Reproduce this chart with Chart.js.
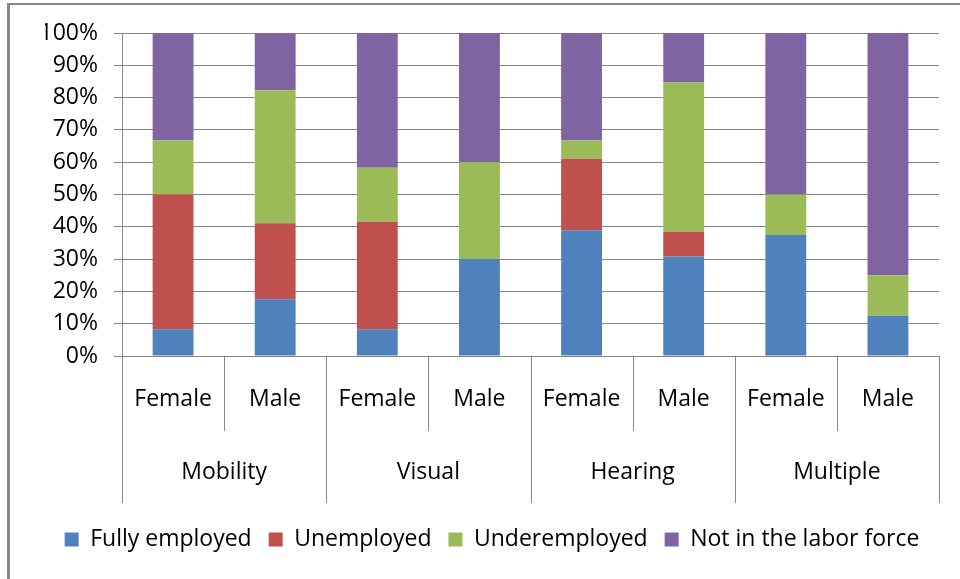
<!DOCTYPE html>
<html>
<head>
<meta charset="utf-8">
<script src="https://cdn.jsdelivr.net/npm/chart.js@4.4.1/dist/chart.umd.min.js"></script>
<style>
  html, body { margin: 0; padding: 0; background: #fff; }
  #wrap { width: 960px; height: 579px; position: relative; }
</style>
</head>
<body>
<div id="wrap"><canvas id="c" width="960" height="579"></canvas></div>
<script>
// ---- data ----
const categories = ['Female', 'Male', 'Female', 'Male', 'Female', 'Male', 'Female', 'Male'];
const groups = ['Mobility', 'Visual', 'Hearing', 'Multiple'];
const fullyEmployed = [8.3, 17.6, 8.3, 30.0, 38.9, 30.8, 37.5, 12.5];
const unemployed    = [41.7, 23.5, 33.3, 0, 22.2, 7.7, 0, 0];
const underemployed = [16.7, 41.2, 16.7, 30.0, 5.6, 46.2, 12.5, 12.5];
const notInLabor    = [33.3, 17.6, 41.7, 40.0, 33.3, 15.4, 50.0, 75.0];
const seriesNames = ['Fully employed', 'Unemployed', 'Underemployed', 'Not in the labor force'];
const yTicks = [0, 10, 20, 30, 40, 50, 60, 70, 80, 90, 100];

const FONT = '"Open Sans"';
const FS = 23;
const GRID = '#868686';
const TEXT = '#000000';
const colors = ['#4F81BD', '#C0504D', '#9BBB59', '#8064A2'];

const dividerPlugin = {
  id: 'dividers',
  beforeDraw(chart) {
    const ctx = chart.ctx;
    ctx.save();
    ctx.fillStyle = GRID;
    ctx.fillRect(7, 3, chart.width - 7, 2);
    ctx.fillRect(7, 3, 3, chart.height - 3);
    ctx.restore();
  },
  afterDraw(chart) {
    const x = chart.scales.x;
    const ctx = chart.ctx;
    ctx.save();
    ctx.strokeStyle = GRID;
    ctx.lineWidth = 1;
    const n = categories.length;
    for (let i = 0; i <= n; i++) {
      const px = Math.round(x.getPixelForValue(i - 0.5)) + 0.5;
      const yEnd = (i % 2 === 0) ? x.bottom + 72 : x.bottom;
      ctx.beginPath();
      ctx.moveTo(px, x.top);
      ctx.lineTo(px, yEnd);
      ctx.stroke();
    }
    ctx.restore();
  }
};

const datasets = [fullyEmployed, unemployed, underemployed, notInLabor].map((d, i) => ({
  label: seriesNames[i],
  data: d,
  backgroundColor: colors[i],
  borderWidth: 0,
  barPercentage: 0.4,
  categoryPercentage: 1.0
}));

new Chart(document.getElementById('c'), {
  type: 'bar',
  data: { labels: categories, datasets },
  plugins: [dividerPlugin],
  options: {
    responsive: false,
    animation: false,
    layout: { padding: { left: 45, right: 21, top: 33, bottom: 18 } },
    plugins: {
      tooltip: { enabled: false },
      legend: {
        position: 'bottom',
        labels: {
          boxWidth: 14, boxHeight: 14, padding: 17,
          color: TEXT,
          font: { family: FONT, size: FS }
        }
      }
    },
    scales: {
      x: {
        stacked: true,
        offset: true,
        grid: { display: false, drawTicks: false },
        border: { display: true, color: GRID, width: 1 },
        ticks: { color: TEXT, font: { family: FONT, size: FS }, padding: 30, maxRotation: 0, autoSkip: false },
        afterFit(s) { s.height = 75; }
      },
      x2: {
        type: 'category',
        position: 'bottom',
        labels: groups,
        offset: true,
        grid: { display: false, drawTicks: false },
        border: { display: false },
        ticks: { color: TEXT, font: { family: FONT, size: FS }, padding: 28, maxRotation: 0, autoSkip: false },
        afterFit(s) { s.height = 80; }
      },
      y: {
        stacked: true,
        min: 0, max: 100,
        afterBuildTicks(s) { s.ticks = yTicks.map(v => ({ value: v })); },
        grid: { color: GRID, lineWidth: 1, tickLength: 8, drawTicks: true },
        border: { display: true, color: GRID, width: 1 },
        ticks: { color: TEXT, font: { family: FONT, size: FS }, padding: 16, callback: v => v + '%' },
        afterFit(s) { s.width = 77; }
      }
    }
  }
});
</script>
</body>
</html>
